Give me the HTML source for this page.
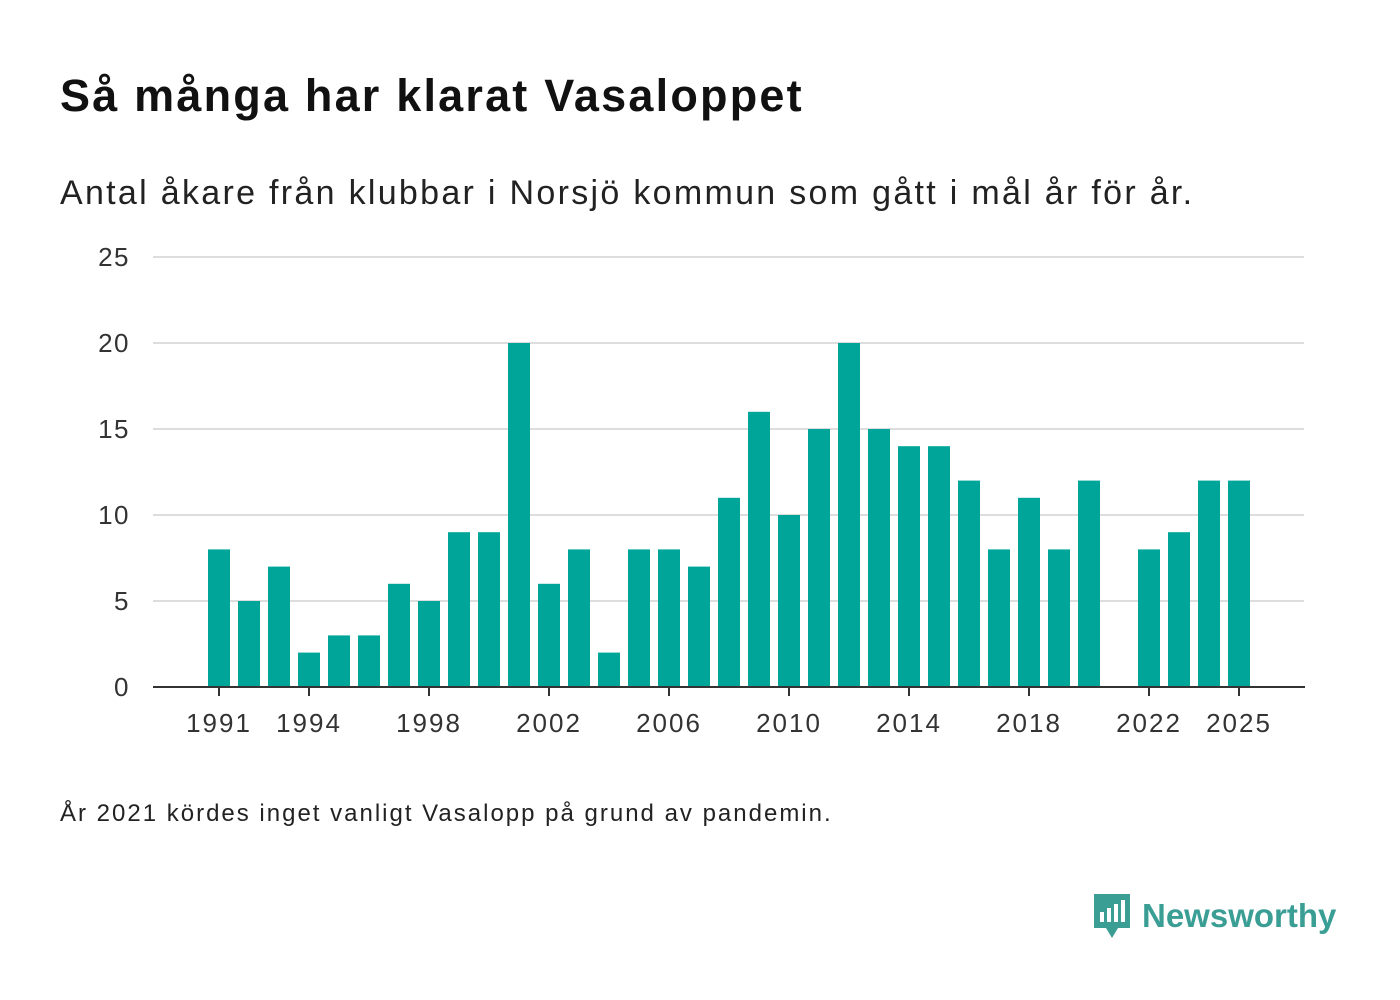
<!DOCTYPE html>
<html><head><meta charset="utf-8"><style>
body{margin:0;width:1400px;height:1000px;background:#fff;font-family:"Liberation Sans",sans-serif;overflow:hidden;position:relative;color:#111}
.t{position:absolute;left:60px;top:70px;font-size:45px;font-weight:bold;margin:0;letter-spacing:2.2px}
.s{position:absolute;left:60px;top:174px;font-size:34px;color:#222;letter-spacing:2.3px}
.n{position:absolute;left:60px;top:800px;font-size:24px;color:#222;letter-spacing:2px}
</style></head><body>
<h1 class="t">Så många har klarat Vasaloppet</h1>
<div class="s">Antal åkare från klubbar i Norsjö kommun som gått i mål år för år.</div>
<svg id="c" width="1400" height="1000" style="position:absolute;left:0;top:0"></svg>
<div class="n">År 2021 kördes inget vanligt Vasalopp på grund av pandemin.</div>
<div style="position:absolute;left:1092px;top:892px;display:flex;align-items:center">
<svg width="40" height="48"><path d="M2 2h36v34H26l-6 10-6-10H2z" fill="#3a9e95"/><rect x="8" y="20" width="4" height="10" fill="#fff"/><rect x="15" y="16" width="4" height="14" fill="#fff"/><rect x="22" y="12" width="4" height="18" fill="#fff"/><rect x="29" y="8" width="4" height="22" fill="#fff"/></svg>
<span style="font-size:33px;font-weight:bold;color:#3a9e95;margin-left:10px">Newsworthy</span></div>
<script>
const years=[1991,1992,1993,1994,1995,1996,1997,1998,1999,2000,2001,2002,2003,2004,2005,2006,2007,2008,2009,2010,2011,2012,2013,2014,2015,2016,2017,2018,2019,2020,2021,2022,2023,2024,2025];
const values=[8,5,7,2,3,3,6,5,9,9,20,6,8,2,8,8,7,11,16,10,15,20,15,14,14,12,8,11,8,12,null,8,9,12,12];
const yTicks=[0,5,10,15,20,25];
const xTicks=[1991,1994,1998,2002,2006,2010,2014,2018,2022,2025];
const svg=document.getElementById('c');const NS='http://www.w3.org/2000/svg';
const x=y=>219+(y-1991)*30;const yy=v=>687-v*17.2;
function mk(t,a){const e=document.createElementNS(NS,t);for(const k in a)e.setAttribute(k,a[k]);svg.appendChild(e);return e;}
yTicks.forEach(v=>{
 const g=mk('line',{x1:153,x2:1304,y1:yy(v),y2:yy(v),stroke:'#ddd','stroke-width':2});
 
 
 const t=mk('text',{x:130,y:yy(v)+9,'text-anchor':'end','font-size':26,fill:'#333','font-family':'Liberation Sans','letter-spacing':1.5});t.textContent=v;
 
 
});
years.forEach((yr,i)=>{if(values[i]==null)return;
 const r=mk('rect',{x:x(yr)-11,y:yy(values[i]),width:22,height:values[i]*17.2,fill:'#00a59a'});
 
 
});
const ax=mk('line',{x1:153,x2:1305,y1:687,y2:687,stroke:'#333','stroke-width':2});


xTicks.forEach(yr=>{
 const l=mk('line',{x1:x(yr),x2:x(yr),y1:687,y2:696,stroke:'#333','stroke-width':2});
 
 
 const t=mk('text',{x:x(yr),y:732,'text-anchor':'middle','font-size':26,fill:'#333','font-family':'Liberation Sans','letter-spacing':2});t.textContent=yr;
 
 
});
</script>
</body></html>
